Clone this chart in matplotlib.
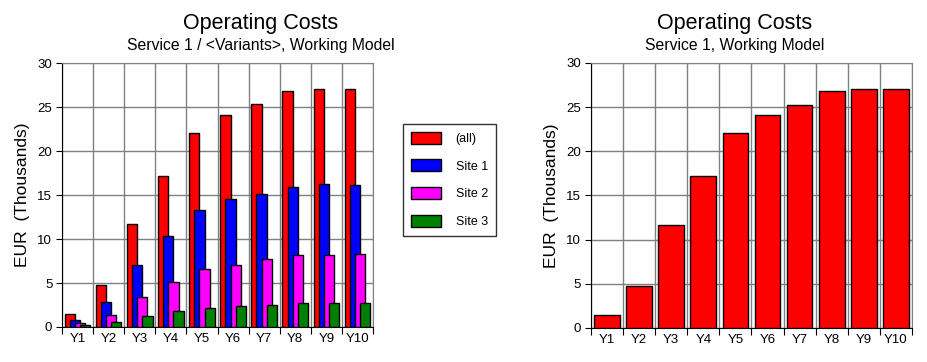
import numpy as np
import matplotlib.pyplot as plt
from matplotlib.patches import Patch

plt.rcParams['font.family'] = ['Liberation Sans', 'DejaVu Sans']

# ==========================================
# DATA (EUR thousands)
# ==========================================
years = ['Y1', 'Y2', 'Y3', 'Y4', 'Y5', 'Y6', 'Y7', 'Y8', 'Y9', 'Y10']
series_names = ['(all)', 'Site 1', 'Site 2', 'Site 3']
all_sites = [1.5, 4.8, 11.7, 17.2, 22.1, 24.1, 25.3, 26.8, 27.1, 27.1]
site1 = [0.8, 2.8, 7.1, 10.3, 13.3, 14.6, 15.1, 15.9, 16.3, 16.1]
site2 = [0.45, 1.35, 3.4, 5.1, 6.6, 7.05, 7.7, 8.15, 8.15, 8.3]
site3 = [0.22, 0.57, 1.28, 1.82, 2.15, 2.38, 2.5, 2.72, 2.72, 2.72]
colors = ['#ff0000', '#0000ff', '#ff00ff', '#008000']

GRID = '#808080'


def style_axes(ax):
    n = len(years)
    ax.set_xlim(-0.5, n - 0.5)
    ax.set_ylim(0, 30)
    ax.set_yticks(range(0, 31, 5))
    # ticks at category boundaries, labels centred
    ax.set_xticks(np.arange(n + 1) - 0.5)
    ax.set_xticklabels([])
    ax.set_xticks(np.arange(n), minor=True)
    ax.set_xticklabels(years, minor=True, fontsize=9.5)
    ax.tick_params(axis='x', which='minor', length=0, pad=4)
    ax.tick_params(axis='x', which='major', length=5, direction='out', color='black')
    ax.tick_params(axis='y', length=4, labelsize=9.5, pad=3)
    ax.grid(True, which='major', color=GRID, linewidth=1)
    ax.set_axisbelow(True)
    for s in ['top', 'right']:
        ax.spines[s].set_color(GRID)
    for s in ['left', 'bottom']:
        ax.spines[s].set_color('black')
    ax.set_ylabel('EUR  (Thousands)', fontsize=12.5, labelpad=5)


fig = plt.figure(figsize=(9.27, 3.62), dpi=100)

# --- Left: grouped (overlapping) bars ---
ax1 = fig.add_axes([0.0669, 0.0967, 0.3355, 0.729])
x = np.arange(len(years))
width = 0.33
step = 0.165
for i, (vals, c) in enumerate(zip([all_sites, site1, site2, site3], colors)):
    ax1.bar(x + (i - 1.5) * step, vals, width=width, color=c,
            edgecolor='black', linewidth=1, zorder=3 + i)
style_axes(ax1)
fig.text(0.2816, 0.936, 'Operating Costs', ha='center', va='center', fontsize=15.5)
fig.text(0.2816, 0.873, 'Service 1 / <Variants>, Working Model', ha='center', va='center', fontsize=11.3)

handles = [Patch(facecolor=c, edgecolor='black', linewidth=1) for c in colors]
leg = fig.legend(handles, series_names, loc='upper left',
                 bbox_to_anchor=(403 / 927, 1 - 124 / 362),
                 fontsize=9, frameon=True, fancybox=False,
                 handlelength=2.4, handleheight=1.1, handletextpad=1.2,
                 labelspacing=1.15, borderpad=0.62, borderaxespad=0)
leg.get_frame().set_edgecolor('black')
leg.get_frame().set_linewidth(1)

# --- Right: total only ---
ax2 = fig.add_axes([0.6375, 0.094, 0.3463, 0.732])
ax2.bar(x, all_sites, width=0.8, color=colors[0], edgecolor='black',
        linewidth=1, zorder=3)
style_axes(ax2)
fig.text(0.7923, 0.936, 'Operating Costs', ha='center', va='center', fontsize=15.5)
fig.text(0.7923, 0.873, 'Service 1, Working Model', ha='center', va='center', fontsize=11.3)

plt.savefig('out.png', dpi=100)
